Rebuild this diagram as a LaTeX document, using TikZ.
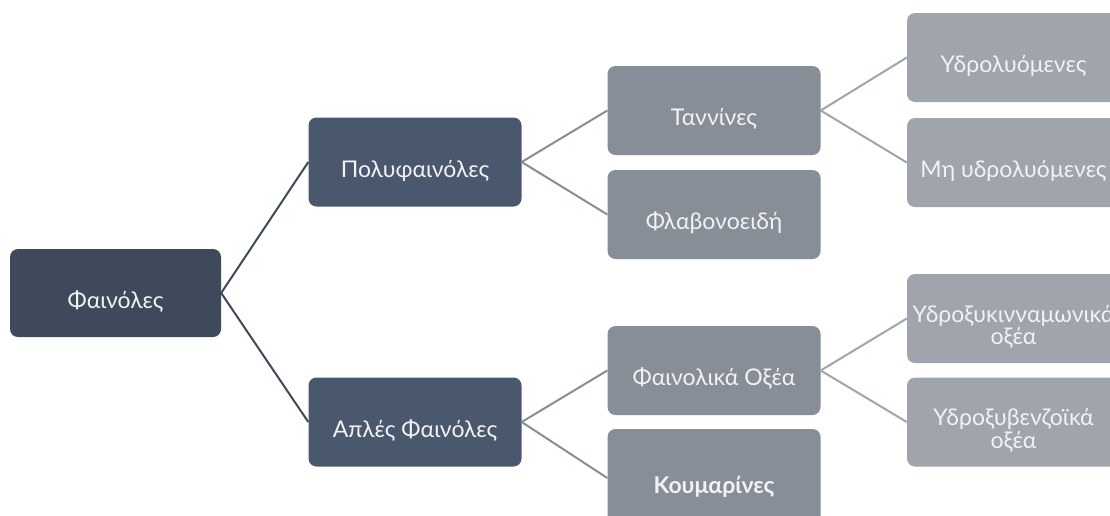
\documentclass[tikz,border=0pt]{standalone}
\usepackage{fontspec}
\setmainfont{Lato}
\definecolor{lvA}{HTML}{3E4A5C}
\definecolor{lvB}{HTML}{4A586D}
\definecolor{lvC}{HTML}{878E98}
\definecolor{lvD}{HTML}{A0A4AC}
\definecolor{txt}{HTML}{F2F2F2}
\tikzset{
  box/.style={rectangle, rounded corners=8pt, minimum width=213pt, minimum height=89pt,
    inner sep=0pt, text=txt, align=center, font=\fontsize{23}{18}\selectfont,
    text height=30pt, text depth=0pt},
  twoline/.style={text height=52pt, text depth=0pt},
  boxA/.style={box, fill=lvA, minimum width=211pt, minimum height=88pt},
  boxB/.style={box, fill=lvB},
  boxC/.style={box, fill=lvC},
  boxD/.style={box, fill=lvD},
  linkA/.style={draw=lvA, line width=2pt},
  linkC/.style={draw=lvC, line width=2pt},
  linkD/.style={draw=lvD, line width=2pt},
}
\begin{document}
\begin{tikzpicture}[x=1pt,y=-1pt]
\useasboundingbox (0,0) rectangle (1110,515);
\fill[white] (0,0) rectangle (1110,515);
\clip (0,0) rectangle (1110,515);
\node[boxA] (root) at (115.5,293) {Φαινόλες};
\node[boxB] (poly) at (415,162) {Πολυφαινόλες};
\node[boxB] (apl) at (415,422) {Απλές Φαινόλες};
\node[boxC] (tan) at (714,110.5) {Ταννίνες};
\node[boxC] (flav) at (714,214.5) {Φλαβονοειδή};
\node[boxC] (fox) at (714,370.5) {Φαινολικά Οξέα};
\node[boxC, minimum height=98pt] (koum) at (714,478) {\bfseries Κουμαρίνες};
\node[boxD] (hyd) at (1013.5,57.5) {Υδρολυόμενες};
\node[boxD] (mhyd) at (1013.5,162.5) {Μη υδρολυόμενες};
\node[boxD, twoline] (hcin) at (1013.5,318.5) {Υδροξυκινναμωνικά\\οξέα};
\node[boxD, twoline] (hben) at (1013.5,422) {Υδροξυβενζοϊκά\\οξέα};
\draw[linkA] (root.east) -- (poly.west);
\draw[linkA] (root.east) -- (apl.west);
\draw[linkC] (poly.east) -- (tan.west);
\draw[linkC] (poly.east) -- (flav.west);
\draw[linkC] (apl.east) -- (fox.west);
\draw[linkC] (apl.east) -- (koum.west);
\draw[linkD] (tan.east) -- (hyd.west);
\draw[linkD] (tan.east) -- (mhyd.west);
\draw[linkD] (fox.east) -- (hcin.west);
\draw[linkD] (fox.east) -- (hben.west);
\end{tikzpicture}
\end{document}
